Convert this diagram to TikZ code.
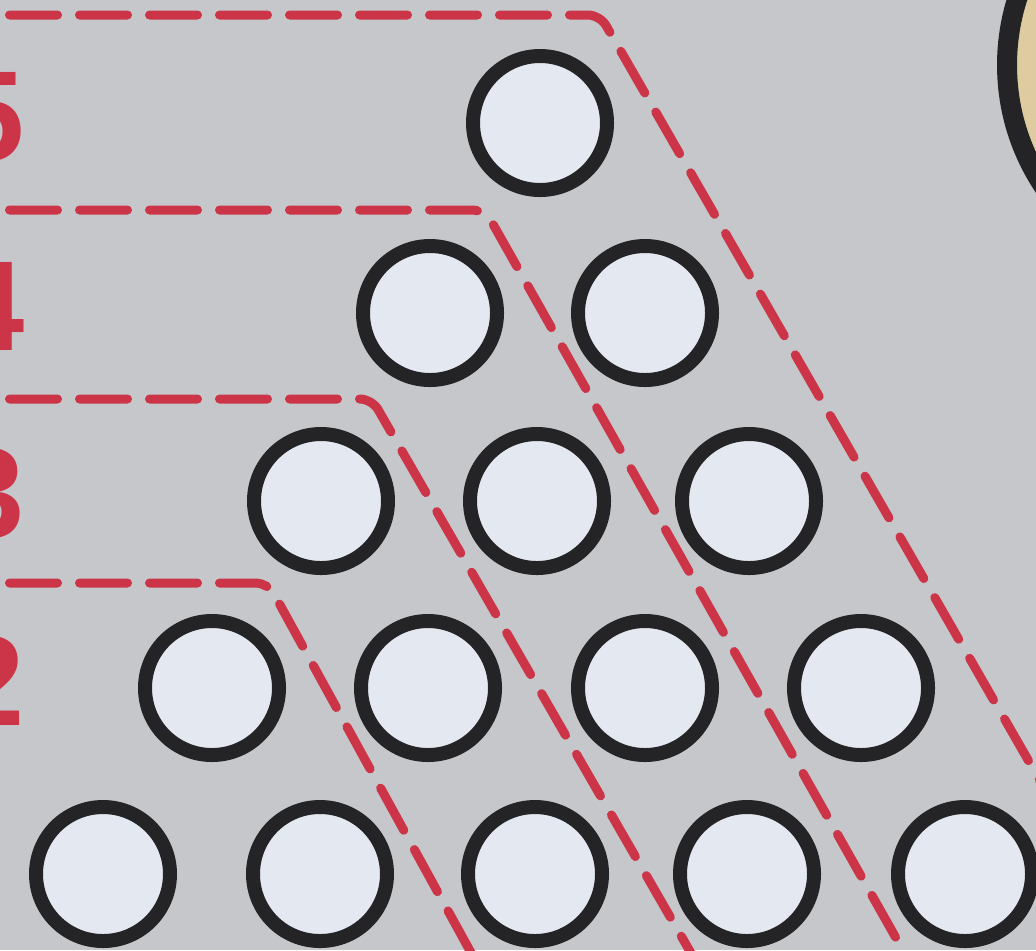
\documentclass[tikz,border=0pt]{standalone}
\usepackage{fontspec}
\setmainfont{Liberation Sans}
\definecolor{bgc}{RGB}{197,199,203}
\definecolor{holec}{RGB}{228,233,241}
\definecolor{ringc}{RGB}{36,36,38}
\definecolor{redc}{RGB}{204,52,72}
\definecolor{beigec}{RGB}{222,204,160}
\begin{document}
\begin{tikzpicture}[x=0.5pt,y=-0.5pt,
  hole/.style={circle,draw=ringc,fill=holec,line width=7pt,minimum size=67pt,inner sep=0pt},
  bighole/.style={circle,draw=ringc,fill=beigec,line width=10pt,minimum size=219pt,inner sep=0pt},
  reddash/.style={draw=redc,line width=4.5pt,line cap=round,dash pattern=on 24pt off 11pt,dash phase=30.25pt,rounded corners=6pt},
  digit/.style={text=redc,font=\bfseries\fontsize{64pt}{64pt}\selectfont,inner sep=0pt,anchor=base east}]
\clip (0,0) rectangle (1036,950);
\fill[bgc] (0,0) rectangle (1036,950);
% guide lines
\coordinate (s1) at (0,15);   \coordinate (c1) at (600,15);  \coordinate (e1) at (1166,1000);
\coordinate (s2) at (0,210);  \coordinate (c2) at (485,210); \coordinate (e2) at (931,1000);
\coordinate (s3) at (0,399);  \coordinate (c3) at (372,399); \coordinate (e3) at (718,1000);
\coordinate (s4) at (0,583);  \coordinate (c4) at (268,583); \coordinate (e4) at (497,1000);
\draw[reddash] (s1) -- (c1) -- (e1);
\draw[reddash] (s2) -- (c2) -- (e2);
\draw[reddash] (s3) -- (c3) -- (e3);
\draw[reddash] (s4) -- (c4) -- (e4);
% big beige hole
\node[bighole] (big) at (1226,65) {};
% holes
\node[hole] (h11) at (540,123) {};
\node[hole] (h21) at (430,313) {};
\node[hole] (h22) at (645,313) {};
\node[hole] (h31) at (321,501) {};
\node[hole] (h32) at (537,501) {};
\node[hole] (h33) at (749,501) {};
\node[hole] (h41) at (212,688) {};
\node[hole] (h42) at (428,688) {};
\node[hole] (h43) at (645,688) {};
\node[hole] (h44) at (861,688) {};
\node[hole] (h51) at (103,874) {};
\node[hole] (h52) at (320,874) {};
\node[hole] (h53) at (535,874) {};
\node[hole] (h54) at (747,874) {};
\node[hole] (h55) at (965,874) {};
% row numbers
\node[digit] (n5) at (25,160) {5};
\node[digit] (n4) at (25,350) {4};
\node[digit] (n3) at (25,537) {3};
\node[digit] (n2) at (25,725) {2};
\end{tikzpicture}
\end{document}
